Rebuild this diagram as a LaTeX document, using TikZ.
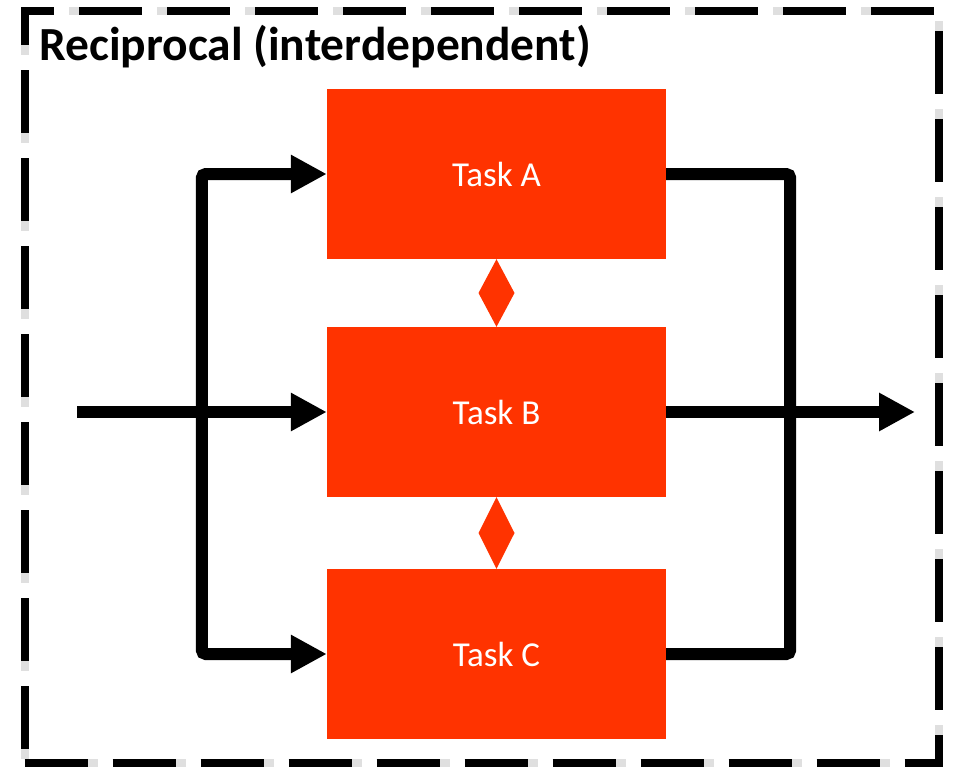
\documentclass[tikz,border=0pt]{standalone}
\usepackage{fontspec}
\setmainfont{Carlito}
\usetikzlibrary{arrows.meta,calc}
\definecolor{taskred}{RGB}{255,51,0}
\tikzset{
  taskbox/.style={fill=taskred, draw=none, minimum width=339pt, minimum height=170pt, inner sep=0pt, text=white, font=\fontsize{35}{42}\selectfont},
  flow/.style={line width=12pt, draw=black},
  bigtip/.tip={Triangle[length=36pt,width=36pt]},
  border/.style={line width=8pt, dash pattern=on 63pt off 25pt},
  bordershadow/.style={line width=8pt, draw=black!25, opacity=0.5, dash pattern=on 63pt off 25pt, dash phase=78pt},
  titlefont/.style={font=\fontsize{47.5}{56}\selectfont\bfseries},
}
\begin{document}
\begin{tikzpicture}[x=1pt,y=-1pt]
\useasboundingbox (0,0) rectangle (956,766);
% border
\coordinate (bl) at (24.5,763);
\coordinate (br) at (939,763);
\coordinate (tr) at (939,11);
\coordinate (tl) at (24.5,11);
\draw[bordershadow] (bl) -- (br) -- (tr) -- (tl) -- cycle;
\draw[border] (bl) -- (br) -- (tr) -- (tl) -- cycle;
% title
\node[anchor=base west, inner sep=0pt, titlefont] (title) at (39,60) {Reciprocal (interdependent)};
% tasks
\node[taskbox] (A) at (496.5,174) {Task A};
\node[taskbox] (B) at (496.5,412) {Task B};
\node[taskbox] (C) at (496.5,654) {Task C};
% diamonds
\fill[taskred] (A.south) -- ($(A.south)!0.5!(B.north)+(18,0)$) -- (B.north) -- ($(A.south)!0.5!(B.north)+(-18,0)$) -- cycle;
\fill[taskred] (B.south) -- ($(B.south)!0.5!(C.north)+(18,0)$) -- (C.north) -- ($(B.south)!0.5!(C.north)+(-18,0)$) -- cycle;
% connectors
\coordinate (in) at (77,412);
\coordinate (out) at (915,412);
\draw[flow, rounded corners=4pt, bigtip-bigtip] (A.west) -- ++(-125,0) |- (C.west);
\draw[flow, rounded corners=4pt] (A.east) -- ++(124,0) |- (C.east);
\draw[flow, -bigtip] (in) -- (B.west);
\draw[flow, -bigtip] (B.east) -- (out);
\end{tikzpicture}
\end{document}
